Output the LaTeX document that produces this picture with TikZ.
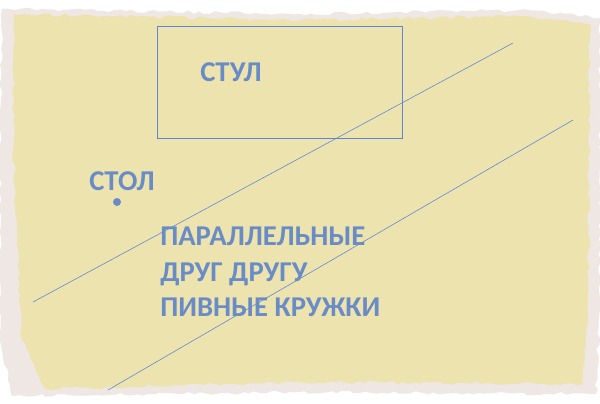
\documentclass[tikz,border=0pt]{standalone}
\usepackage{fontspec}
\setmainfont{Carlito}
\usetikzlibrary{decorations.pathmorphing}
\definecolor{paper}{HTML}{EDE3AE}
\definecolor{edge}{HTML}{EEE7E4}
\definecolor{ink}{HTML}{6A8CC6}
\definecolor{pen}{HTML}{5B85D6}
\tikzset{
  word/.style={text=ink, font=\bfseries\fontsize{20.4}{24}\selectfont, inner sep=0mm, anchor=base west
  },
  torn/.style={decorate, decoration={random steps, segment length=4pt, amplitude=1.2pt}
  },
  thin line/.style={draw=pen, line width=0.4pt
  }
}

\begin{document}
\begin{tikzpicture}[x=0.025cm, y=-0.025cm]
   \pgfmathsetseed{7}
   \useasboundingbox[fill=white] (0, 0) rectangle (600, 403);

   % paper
   \fill[edge, torn] (2, 9) -- (300, 14) -- (520, 10) -- (600, 18) -- (600, 300)
      -- (596, 394) -- (300, 392) -- (12, 396) -- (0, 340) -- (0, 150) -- cycle;
   \fill[paper, torn] (14, 14) -- (300, 20) -- (520, 16) -- (590, 24) -- (588, 300)
      -- (583, 384) -- (300, 382) -- (45, 389) -- (22, 340) -- (13, 150) -- cycle;

   % chair
   \draw[thin line] (157, 26) rectangle (402, 138);
   \node[word] (stul) at (200, 81) {СТУЛ};

   % table
   \node[word] (stol) at (89, 190) {СТОЛ};
   \fill[ink] (117, 202) circle (4);

   % the two lines
   \coordinate (l1a) at (33, 302);
   \coordinate (l1b) at (513, 43);
   \coordinate (l2a) at (108, 390);
   \coordinate (l2b) at (573, 120);
   \draw[thin line] (l1a) -- (l1b);
   \draw[thin line] (l2a) -- (l2b);

   \node[word] (par) at (160, 245) {ПАРАЛЛЕЛЬНЫЕ};
   \node[word] (drug) at (160, 281) {ДРУГ ДРУГУ};
   \node[word] (pivo) at (160, 316) {ПИВНЫЕ КРУЖКИ};
\end{tikzpicture}
\end{document}
